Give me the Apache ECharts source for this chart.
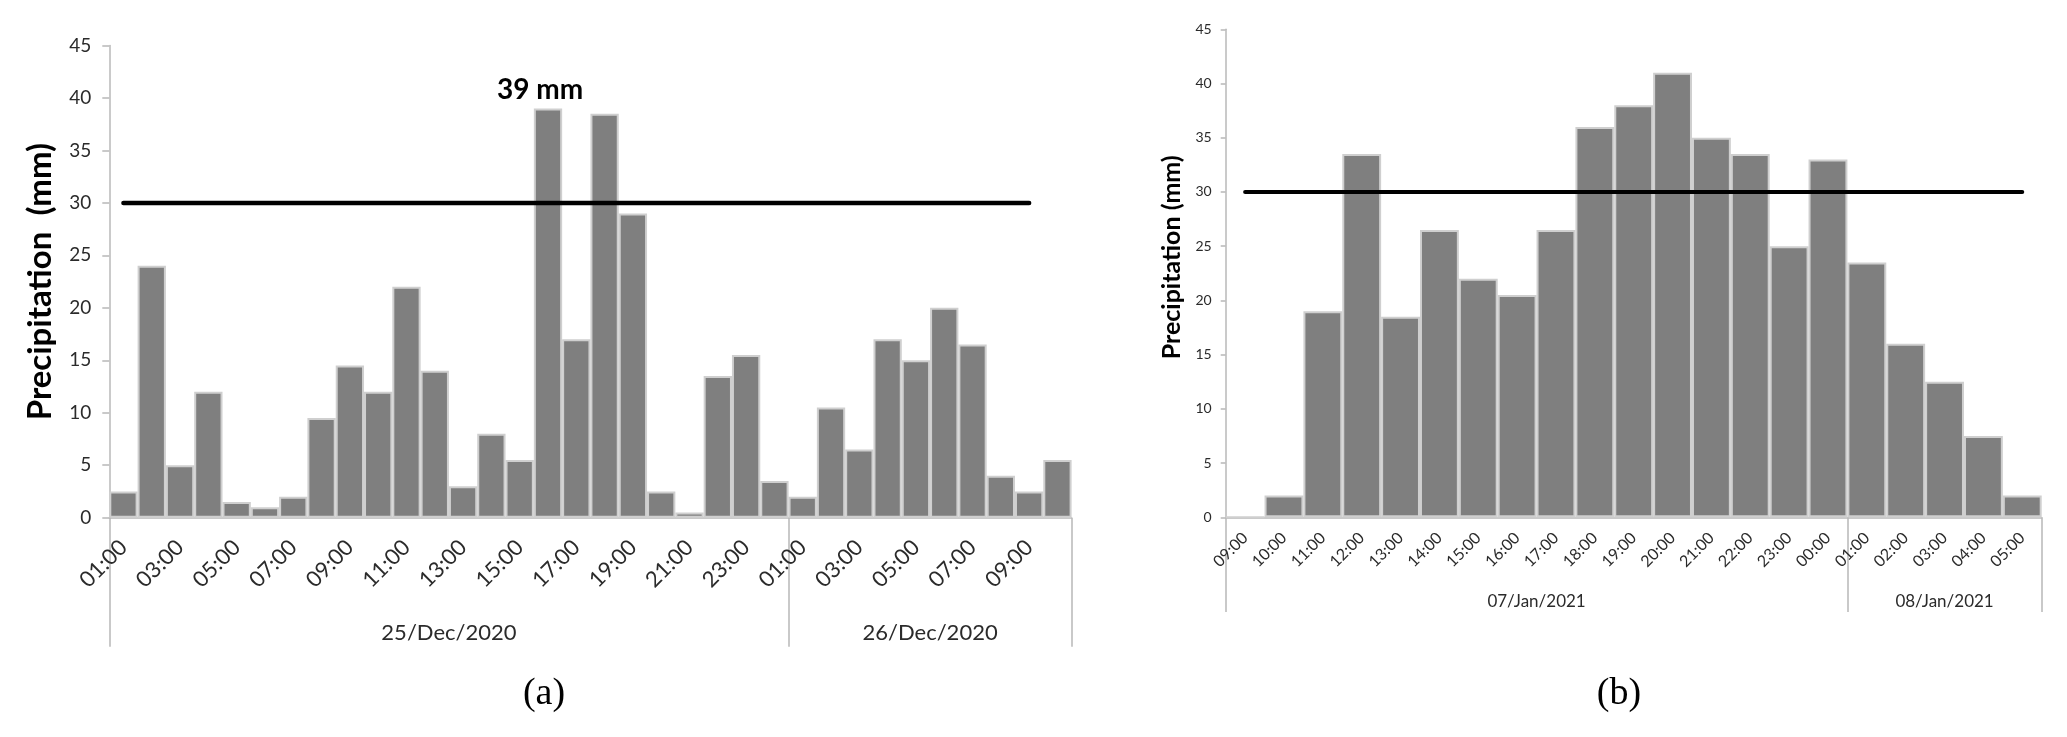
<!DOCTYPE html>
<html>
<head>
<meta charset="utf-8">
<script src="https://cdn.jsdelivr.net/npm/echarts@6/dist/echarts.min.js"></script>
<style>
html,body{margin:0;padding:0;background:#fff;}
#chart{width:2067px;height:737px;}
</style>
</head>
<body>
<div id="chart"></div>
<script>
// ---------- data ----------
const hoursA = ['01:00','02:00','03:00','04:00','05:00','06:00','07:00','08:00','09:00','10:00','11:00','12:00',
  '13:00','14:00','15:00','16:00','17:00','18:00','19:00','20:00','21:00','22:00','23:00','00:00',
  '01:00','02:00','03:00','04:00','05:00','06:00','07:00','08:00','09:00','10:00'];
const valuesA = [2.5,24,5,12,1.5,1,2,9.5,14.5,12,22,14,3,8,5.5,39,17,38.5,29,2.5,0.5,13.5,15.5,3.5,
  2,10.5,6.5,17,15,20,16.5,4,2.5,5.5];
const datesA = ['25/Dec/2020','26/Dec/2020'];
const dayCountsA = [24,10];
const thresholdSpanA = [0,32];

const hoursB = ['09:00','10:00','11:00','12:00','13:00','14:00','15:00','16:00','17:00','18:00','19:00',
  '20:00','21:00','22:00','23:00','00:00','01:00','02:00','03:00','04:00','05:00'];
const valuesB = [0,2,19,33.5,18.5,26.5,22,20.5,26.5,36,38,41,35,33.5,25,33,23.5,16,12.5,7.5,2];
const datesB = ['07/Jan/2021','08/Jan/2021'];
const dayCountsB = [16,5];
const thresholdSpanB = [0,20];

const threshold = 30;
const peakLabelA = '39 mm';
const yMin = 0, yMax = 45, yStep = 5;
const yName = ['Precipitation  (mm)','Precipitation (mm)'];
const captions = ['(a)','(b)'];

// ---------- build ----------
const FONT = 'Lato';
const grids = [], xAxes = [], yAxes = [], series = [];

function panel(p, idx) {
  const n = p.hours.length;
  const keys = [];
  const bounds = [0];
  const mids = [];
  let start = 0;
  p.dates.forEach((d, k) => {
    for (let j = 0; j < p.counts[k]; j++) keys.push(d + ' ' + p.hours[start + j]);
    mids.push(start + p.counts[k] / 2);
    start += p.counts[k];
    bounds.push(start);
  });
  grids.push(Object.assign({containLabel:false, outerBoundsMode:'none'}, p.grid));
  const catIdx = xAxes.length;
  xAxes.push({
    type:'category', gridIndex: idx, data: keys, boundaryGap: true,
    axisLine:{show:true, onZero:false, lineStyle:{color:'#b8b8b8', width:1.5}},
    axisTick:{show:false},
    splitLine:{show:false},
    axisLabel:{interval:p.labelInterval, rotate:45, margin:p.hourMargin, fontFamily:FONT,
      fontSize:p.hourFont, color:'#2b2b2b', formatter: v => v.split(' ')[1]}
  });
  xAxes.push({
    type:'value', gridIndex: idx, min:0, max:n, position:'bottom', offset:p.groupOffset,
    axisLine:{show:false, onZero:false},
    splitLine:{show:false},
    axisTick:{show:true, inside:true, length:p.groupOffset, customValues:bounds,
      lineStyle:{color:'#b8b8b8', width:1.5}},
    axisLabel:{show:true, inside:true, margin:p.groupMargin, customValues:mids, fontFamily:FONT,
      fontSize:p.groupFont, color:'#2b2b2b',
      formatter: v => { const k = mids.indexOf(v); return k >= 0 ? p.dates[k] : ''; }}
  });
  yAxes.push({
    type:'value', gridIndex: idx, min:yMin, max:yMax, interval:yStep,
    name:p.yName, nameLocation:'middle', nameGap:p.nameGap,
    nameTextStyle:{fontFamily:FONT, fontWeight:'bold', fontSize:p.nameFont, color:'#000',
      padding:p.namePadding},
    axisLine:{show:true, onZero:false, lineStyle:{color:'#b8b8b8', width:1.5}},
    axisTick:{show:true, length:p.tickLen, lineStyle:{color:'#b8b8b8', width:1.5}},
    splitLine:{show:false},
    axisLabel:{margin:p.yMargin, fontFamily:FONT, fontSize:p.yFont, color:'#2b2b2b'}
  });
  const peak = p.values.indexOf(Math.max(...p.values));
  series.push({
    type:'bar', xAxisIndex:catIdx, yAxisIndex:idx, barCategoryGap:'0%', barGap:'0%',
    itemStyle:{color:'#7f7f7f', borderColor:'#cfcfcf', borderWidth:2},
    emphasis:{disabled:true},
    data: p.values.map((v, i) => (p.peakLabel && i === peak) ? {
      value:v,
      label:{show:true, position:'top', distance:4, offset:[-8,0], formatter:p.peakLabel,
        fontFamily:FONT, fontWeight:'bold', fontSize:28, color:'#000'}
    } : v)
  });
  series.push({
    type:'line', xAxisIndex:catIdx, yAxisIndex:idx, symbol:'none', z:5, silent:true,
    lineStyle:{color:'#000', width:p.lineW, cap:'round'},
    data:[[p.span[0], threshold],[p.span[1], threshold]]
  });
}

panel({hours:hoursA, values:valuesA, dates:datesA, counts:dayCountsA, span:thresholdSpanA,
  grid:{left:109.3, top:45.5, width:962.3, height:472.2},
  labelInterval:1, hourMargin:26, hourFont:22, groupOffset:129, groupMargin:3, groupFont:22,
  yName:yName[0], nameGap:52, nameFont:33, namePadding:[0,0,0,0], tickLen:7, yMargin:18, yFont:19,
  lineW:4.5, peakLabel:peakLabelA}, 0);

panel({hours:hoursB, values:valuesB, dates:datesB, counts:dayCountsB, span:thresholdSpanB,
  grid:{left:1225.7, top:29.3, width:816, height:488},
  labelInterval:0, hourMargin:18, hourFont:16, groupOffset:94.7, groupMargin:2, groupFont:17,
  yName:yName[1], nameGap:41, nameFont:25, namePadding:[0,0,0,32], tickLen:5, yMargin:14, yFont:14,
  lineW:4, peakLabel:null}, 1);

const chart = echarts.init(document.getElementById('chart'), null, {renderer:'canvas'});
chart.setOption({
  animation:false,
  backgroundColor:'#fff',
  grid:grids, xAxis:xAxes, yAxis:yAxes, series:series,
  graphic:[
    {type:'text', x:544, y:694, style:{text:captions[0], fontFamily:'Liberation Serif', fontSize:38,
      fill:'#000', textAlign:'center', textVerticalAlign:'middle'}},
    {type:'text', x:1619, y:694, style:{text:captions[1], fontFamily:'Liberation Serif', fontSize:38,
      fill:'#000', textAlign:'center', textVerticalAlign:'middle'}}
  ]
});
</script>
</body>
</html>
